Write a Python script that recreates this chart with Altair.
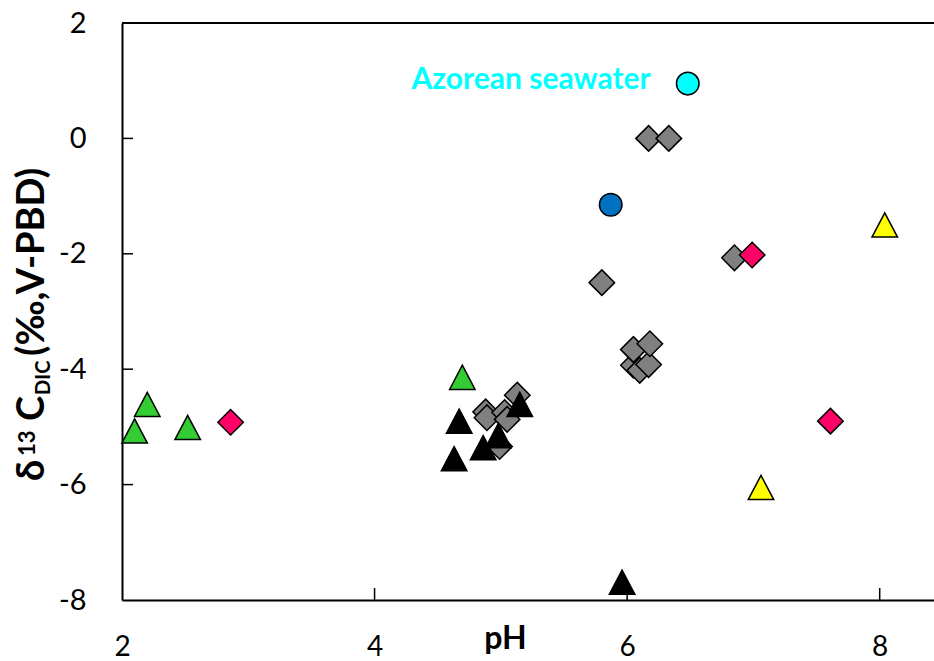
import altair as alt
import pandas as pd

# ---- data ----
green_ph = [2.10, 2.20, 2.52, 4.695]
green_d13c = [-5.07, -4.61, -5.01, -4.14]

grey_ph = [4.88, 4.89, 5.03, 5.05, 5.13, 4.99, 5.80, 6.05, 6.05, 6.10, 6.17, 6.05, 6.18, 6.17, 6.33, 6.85]
grey_d13c = [-4.74, -4.84, -4.75, -4.87, -4.45, -5.34, -2.50, -3.93, -3.66, -4.02, -3.92, -3.66, -3.56, 0.0, 0.0, -2.07]

black_ph = [4.67, 4.63, 4.86, 4.98, 5.15, 5.96]
black_d13c = [-4.90, -5.55, -5.36, -5.15, -4.61, -7.69]

red_ph = [2.86, 6.99, 7.61]
red_d13c = [-4.92, -2.02, -4.90]

yellow_ph = [8.04, 7.06]
yellow_d13c = [-1.50, -6.05]

blue_ph = [5.87]
blue_d13c = [-1.15]

cyan_ph = [6.48]
cyan_d13c = [0.95]
cyan_label = ["Azorean seawater"]

x_ticks = [2, 4, 6, 8]
y_ticks = [-8, -6, -4, -2, 0, 2]
x_inner_ticks = [4, 6, 8]
y_inner_ticks = [-6, -4, -2, 0]

W, H = 812, 577
FONT = "Lato"

xs = alt.Scale(domain=[2, 8.43], nice=False, zero=False)
ys = alt.Scale(domain=[-8, 2], nice=False, zero=False)

TRI = "M0,-0.95L1,0.95L-1,0.95Z"


def pts(xv, yv, shape, color, size):
    df = pd.DataFrame({"pH": xv, "d13C": yv})
    return alt.Chart(df).mark_point(
        shape=shape, filled=True, fill=color, stroke="black", strokeWidth=1.5,
        size=size, opacity=1, fillOpacity=1
    ).encode(
        x=alt.X("pH:Q", scale=xs,
                axis=alt.Axis(values=x_ticks, title="pH", grid=False, ticks=False,
                              labelExpr="toString(datum.value)", labelFlush=False,
                              domainColor="black", domainWidth=2, labelPadding=33,
                              labelFont=FONT, labelFontSize=28, labelColor="black",
                              titleFont=FONT, titleFontSize=32, titleFontWeight="bold",
                              titleColor="black", titleX=383, titleY=48,
                              titleBaseline="alphabetic", titleAlign="center")),
        y=alt.Y("d13C:Q", scale=ys,
                axis=alt.Axis(values=y_ticks, title=None, grid=False, ticks=False,
                              labelExpr="toString(datum.value)", labelFlush=False,
                              domainColor="black", domainWidth=2, labelPadding=36,
                              labelFont=FONT, labelFontSize=29, labelColor="black")),
    )


grey = pts(grey_ph, grey_d13c, "diamond", "#808080", 650)
black = pts(black_ph, black_d13c, TRI, "#000000", 650)
green = pts(green_ph, green_d13c, TRI, "#33CC33", 650)
red = pts(red_ph, red_d13c, "diamond", "#FF0066", 650)
yellow = pts(yellow_ph, yellow_d13c, TRI, "#FFFF00", 650)
blue = pts(blue_ph, blue_d13c, "circle", "#0070C0", 510)
cyan = pts(cyan_ph, cyan_d13c, "circle", "#00FFFF", 510)

label = alt.Chart(pd.DataFrame({"pH": cyan_ph, "d13C": cyan_d13c, "t": cyan_label})).mark_text(
    align="right", baseline="alphabetic", dx=-37, dy=5, font=FONT, fontSize=30,
    fontWeight="bold", color="#00FFFF"
).encode(x=alt.X("pH:Q", scale=xs), y=alt.Y("d13C:Q", scale=ys), text="t:N")

# inward tick marks and top frame line
ytick = alt.Chart(pd.DataFrame({"v": y_inner_ticks})).mark_rule(color="black", strokeWidth=1.5).encode(
    y=alt.Y("v:Q", scale=ys), x=alt.value(0), x2=alt.value(11))
xtick = alt.Chart(pd.DataFrame({"v": x_inner_ticks})).mark_rule(color="black", strokeWidth=1.5).encode(
    x=alt.X("v:Q", scale=xs), y=alt.value(H), y2=alt.value(H - 12))
top = alt.Chart(pd.DataFrame({"v": [y_ticks[-1]]})).mark_rule(color="black", strokeWidth=2).encode(
    y=alt.Y("v:Q", scale=ys), x=alt.value(0), x2=alt.value(W))

# y-axis title with superscript / subscript pieces (rotated)
title_parts = [
    ("δ", 38, 481, 44),
    ("13", 22, 456, 35),
    ("C", 38, 421, 44),
    ("DIC", 20, 395, 50),
    ("(‰,V-PBD)", 38, 356, 44),
]
title_layers = []
for txt, fs, ypix, xpix in title_parts:
    title_layers.append(
        alt.Chart(pd.DataFrame({"t": [txt]})).mark_text(
            angle=270, align="left", baseline="alphabetic", font=FONT,
            fontSize=fs, fontWeight="bold", color="black"
        ).encode(text="t:N", x=alt.value(xpix - 122), y=alt.value(ypix - 23))
    )

chart = alt.layer(
    top, ytick, xtick, grey, black, green, red, yellow, blue, cyan, label, *title_layers
).properties(
    width=W, height=H,
    padding={"left": 122, "top": 23, "right": 0, "bottom": 61},
    autosize=alt.AutoSizeParams(type="none"),
).configure_view(strokeWidth=0).configure(background="white")

chart.save("out.html", embed_options={"renderer": "svg", "actions": False})
